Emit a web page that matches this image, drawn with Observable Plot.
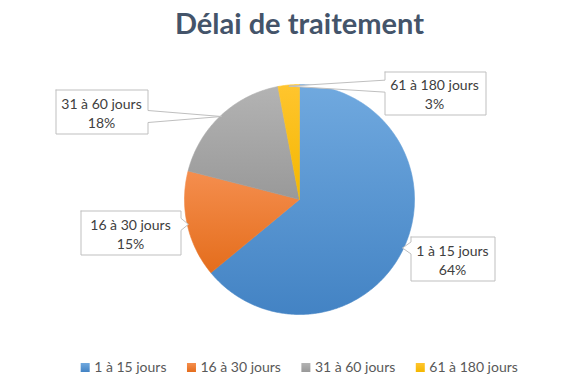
<!DOCTYPE html>
<html><head><meta charset="utf-8">
<script src="https://cdn.jsdelivr.net/npm/d3@7"></script>
<script src="https://cdn.jsdelivr.net/npm/@observablehq/plot@0.6"></script>
<style>body{margin:0;background:#fff} #chart{width:583px;height:381px}</style>
</head><body><div id="chart"></div>
<script>
// ---- data ----
const title = "Délai de traitement";
const categories = ["1 à 15 jours", "16 à 30 jours", "31 à 60 jours", "61 à 180 jours"];
const values = [64, 15, 18, 3];
const valueLabels = ["64%", "15%", "18%", "3%"];

// ---- styles ----
const colorsTop = ["#70A9DF", "#F58E4E", "#B3B3B3", "#FFC52E"];
const colorsBottom = ["#4383C4", "#E46D1C", "#999999", "#F4B700"];
const FONT = "Lato";

// ---- layout ----
const W = 583, H = 381, CX = 299, CY = 199, R = 115;
const labelBoxes = [
  {cx: 452, cy: 258, w: 84, h: 44},
  {cx: 130, cy: 232, w: 100, h: 44},
  {cx: 101, cy: 111, w: 92, h: 44},
  {cx: 434, cy: 92, w: 101, h: 43}
];

const arcs = d3.pie().sort(null).value(d => d)(values);
const slices = arcs.map(a => {
  const n = Math.max(4, Math.ceil((a.endAngle - a.startAngle) / 0.01));
  const pts = [{x: CX, y: CY}];
  for (let k = 0; k <= n; k++) {
    const t = a.startAngle + (a.endAngle - a.startAngle) * k / n;
    pts.push({x: CX + R * Math.sin(t), y: CY - R * Math.cos(t)});
  }
  pts.push({x: CX, y: CY});
  return pts;
});

function callout(b, tip) {
  const l = Math.round(b.cx - b.w / 2) + 0.5, r = Math.round(b.cx + b.w / 2) + 0.5;
  const t = Math.round(b.cy - b.h / 2) + 0.5, bt = Math.round(b.cy + b.h / 2) + 0.5;
  const hw = 6;
  const cl = (v, a, z) => Math.max(a, Math.min(z, v));
  let p;
  if (tip.x > r) {
    const yc = cl(tip.y, t + hw, bt - hw);
    p = [[l, t], [r, t], [r, yc - hw], [tip.x, tip.y], [r, yc + hw], [r, bt], [l, bt], [l, t]];
  } else if (tip.x < l) {
    const yc = cl(tip.y, t + hw, bt - hw);
    p = [[l, t], [r, t], [r, bt], [l, bt], [l, yc + hw], [tip.x, tip.y], [l, yc - hw], [l, t]];
  } else if (tip.y < t) {
    const xc = cl(tip.x, l + hw, r - hw);
    p = [[l, t], [xc - hw, t], [tip.x, tip.y], [xc + hw, t], [r, t], [r, bt], [l, bt], [l, t]];
  } else {
    const xc = cl(tip.x, l + hw, r - hw);
    p = [[l, t], [r, t], [r, bt], [xc + hw, bt], [tip.x, tip.y], [xc - hw, bt], [l, bt], [l, t]];
  }
  return p.map(([x, y]) => ({x, y}));
}

const labels = arcs.map((a, i) => {
  const m = (a.startAngle + a.endAngle) / 2;
  const tip = {x: CX + R * 0.99 * Math.sin(m), y: CY - R * 0.99 * Math.cos(m)};
  return {box: labelBoxes[i], tip, text: categories[i] + "\n" + valueLabels[i]};
});

// legend layout
const ctx = document.createElement("canvas").getContext("2d");
const LFS = 14;
ctx.font = `${LFS}px ${FONT}`;
const SQ = 9, GT = 4, GI = 21;
const tws = categories.map(c => ctx.measureText(c).width);
const total = d3.sum(tws) + categories.length * (SQ + GT) + GI * (categories.length - 1);
let xs = CX - total / 2;
const legend = categories.map((c, i) => {
  const d = {i, c, x1: xs, x2: xs + SQ, y1: 363, y2: 372, tx: xs + SQ + GT};
  xs += SQ + GT + tws[i] + GI;
  return d;
});

const marks = [];
slices.forEach((pts, i) => {
  marks.push(Plot.line(pts, {x: "x", y: "y", fill: `url(#sg${i})`, stroke: `url(#sg${i})`, strokeWidth: 0.6}));
});
labels.forEach(L => {
  marks.push(Plot.line(callout(L.box, L.tip), {x: "x", y: "y", fill: "white", stroke: "#BFBFBF", strokeWidth: 1}));
});
marks.push(Plot.text(labels, {x: d => d.box.cx, y: d => d.box.cy + 1, text: "text", fontSize: 14, lineHeight: 1.36, fill: "#404040", fontFamily: FONT, textAnchor: "middle", lineAnchor: "middle"}));
marks.push(Plot.text([title], {x: () => CX, y: () => 24, text: d => d, fontSize: 29, fontWeight: "bold", fill: "#44546A", fontFamily: FONT, textAnchor: "middle", lineAnchor: "middle"}));
legend.forEach(d => {
  marks.push(Plot.rect([d], {x1: "x1", x2: "x2", y1: "y1", y2: "y2", fill: `url(#sg${d.i})`}));
});
marks.push(Plot.text(legend, {x: "tx", y: () => 367.5, text: "c", fontSize: LFS, fill: "#595959", fontFamily: FONT, textAnchor: "start", lineAnchor: "middle"}));

const svg = Plot.plot({
  width: W, height: H, margin: 0,
  x: {type: "linear", domain: [0, W], range: [0, W], axis: null},
  y: {type: "linear", domain: [0, H], range: [0, H], axis: null},
  style: {background: "white", fontFamily: FONT},
  marks
});

const defs = d3.select(svg).insert("defs", ":first-child");
colorsTop.forEach((c, i) => {
  const g = defs.append("linearGradient").attr("id", `sg${i}`).attr("x1", 0).attr("y1", 0).attr("x2", 0).attr("y2", 1);
  g.append("stop").attr("offset", "0%").attr("stop-color", c);
  g.append("stop").attr("offset", "100%").attr("stop-color", colorsBottom[i]);
});
document.getElementById("chart").appendChild(svg);
</script>
</body></html>
